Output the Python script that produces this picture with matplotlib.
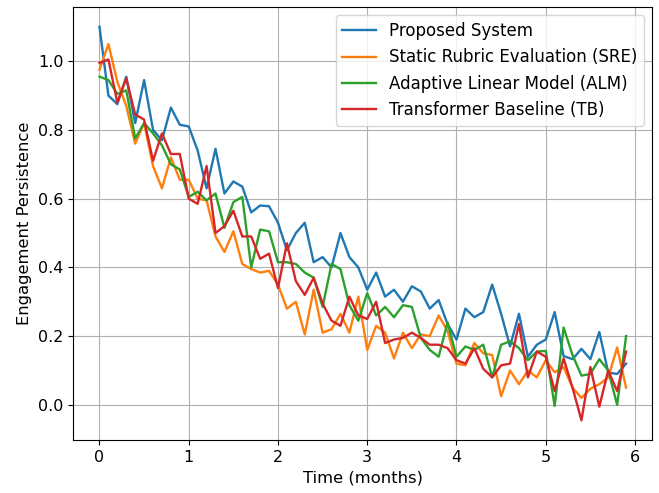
import numpy as np
import matplotlib
matplotlib.use('Agg')
import matplotlib.pyplot as plt

# time axis in months (step 0.1)
t = np.arange(60) / 10

proposed = [1.10, 0.90, 0.875, 0.955, 0.82, 0.945, 0.80, 0.77, 0.865, 0.815,
            0.81, 0.74, 0.63, 0.745, 0.615, 0.65, 0.635, 0.56, 0.58, 0.578,
            0.53, 0.45, 0.50, 0.53, 0.415, 0.43, 0.40, 0.50, 0.43, 0.40,
            0.335, 0.385, 0.315, 0.335, 0.30, 0.345, 0.33, 0.28, 0.305, 0.235,
            0.19, 0.28, 0.255, 0.27, 0.35, 0.265, 0.17, 0.265, 0.14, 0.175,
            0.19, 0.27, 0.142, 0.133, 0.163, 0.133, 0.212, 0.094, 0.09, 0.12]

sre = [0.975, 1.05, 0.94, 0.87, 0.76, 0.82, 0.695, 0.63, 0.72, 0.655,
       0.655, 0.60, 0.595, 0.49, 0.445, 0.505, 0.41, 0.395, 0.385, 0.39,
       0.35, 0.28, 0.30, 0.205, 0.335, 0.21, 0.22, 0.265, 0.21, 0.315,
       0.16, 0.23, 0.21, 0.135, 0.21, 0.165, 0.205, 0.20, 0.26, 0.215,
       0.12, 0.115, 0.18, 0.15, 0.145, 0.025, 0.10, 0.06, 0.10, 0.08,
       0.13, 0.095, 0.11, 0.05, 0.02, 0.047, 0.06, 0.08, 0.167, 0.05]

alm = [0.955, 0.945, 0.905, 0.915, 0.775, 0.82, 0.79, 0.755, 0.70, 0.685,
       0.605, 0.62, 0.595, 0.615, 0.515, 0.59, 0.605, 0.40, 0.51, 0.505,
       0.415, 0.415, 0.41, 0.385, 0.37, 0.285, 0.41, 0.395, 0.29, 0.245,
       0.325, 0.26, 0.285, 0.255, 0.29, 0.285, 0.195, 0.16, 0.14, 0.24,
       0.14, 0.17, 0.16, 0.175, 0.08, 0.175, 0.185, 0.165, 0.13, 0.155,
       0.157, -0.003, 0.225, 0.145, 0.085, 0.09, 0.133, 0.10, 0.0, 0.20]

tb = [0.995, 1.005, 0.88, 0.95, 0.845, 0.83, 0.71, 0.79, 0.73, 0.73,
      0.60, 0.585, 0.695, 0.50, 0.52, 0.565, 0.49, 0.49, 0.425, 0.44,
      0.34, 0.47, 0.36, 0.32, 0.37, 0.295, 0.245, 0.23, 0.315, 0.26,
      0.25, 0.30, 0.18, 0.19, 0.195, 0.21, 0.195, 0.175, 0.175, 0.165,
      0.13, 0.12, 0.165, 0.105, 0.08, 0.115, 0.12, 0.235, 0.08, 0.155,
      0.14, 0.04, 0.135, 0.05, -0.045, 0.11, -0.005, 0.10, 0.04, 0.155]

fig = plt.figure(figsize=(6.59, 4.93), dpi=100)
ax = fig.add_axes([0.111, 0.1075, 0.879, 0.878])

ax.plot(t, proposed, label='Proposed System', lw=1.7)
ax.plot(t, sre, label='Static Rubric Evaluation (SRE)', lw=1.7)
ax.plot(t, alm, label='Adaptive Linear Model (ALM)', lw=1.7)
ax.plot(t, tb, label='Transformer Baseline (TB)', lw=1.7)

ax.set_xlabel('Time (months)', fontsize=11.8)
ax.set_ylabel('Engagement Persistence', fontsize=11.8)
ax.tick_params(labelsize=11.5)
ax.grid(True)
ax.legend(loc='upper right', fontsize=12)

fig.savefig('out.png', dpi=100)
